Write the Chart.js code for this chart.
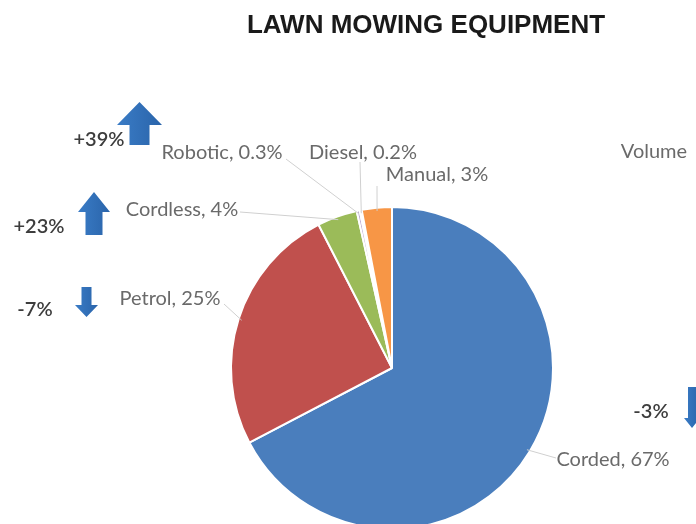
<!DOCTYPE html>
<html>
<head>
<meta charset="utf-8">
<script src="https://cdn.jsdelivr.net/npm/chart.js@4/dist/chart.umd.min.js"></script>
<style>
  html, body { margin: 0; padding: 0; background: #fff; overflow: hidden; }
  #wrap { width: 696px; height: 524px; position: relative; }
</style>
</head>
<body>
<div id="wrap"><canvas id="c" width="696" height="524"></canvas></div>
<script>
// Market share by mower type (% of units)
const categories = ['Corded', 'Petrol', 'Cordless', 'Robotic', 'Diesel', 'Manual'];
const shares = [67, 25, 4, 0.3, 0.2, 3];
const sliceColors = ['#4a7ebd', '#c0504d', '#9bbb59', '#b9a7cf', '#9fd3e2', '#f79646'];

// Volume change for selected types (%)
const changeCategories = ['Robotic', 'Cordless', 'Petrol', 'Corded'];
const volumeChange = [39, 23, -7, -3];

const chartTitle = 'LAWN MOWING EQUIPMENT';
const sideNote = 'Volume';

// Where each slice label sits and where its leader line starts
const labelLayout = {
  Corded:   { x: 613, y: 460, lx: 556, ly: 458 },
  Petrol:   { x: 170, y: 299, lx: 224, ly: 304 },
  Cordless: { x: 182, y: 210, lx: 240, ly: 212 },
  Robotic:  { x: 222, y: 153, lx: 286, ly: 159 },
  Diesel:   { x: 363, y: 153, lx: 360, ly: 162 },
  Manual:   { x: 437, y: 175, lx: 377, ly: 186 }
};

// Change badges: text centre and arrow box
const changeLayout = {
  Robotic:  { tx: 99,  ty: 140, ax: 117, ay: 102, aw: 45, ah: 43, head: 23, shaft: 20 },
  Cordless: { tx: 39,  ty: 227, ax: 78,  ay: 192, aw: 32, ah: 43, head: 20, shaft: 17 },
  Petrol:   { tx: 35,  ty: 310, ax: 75,  ay: 287, aw: 23, ah: 30, head: 12, shaft: 10 },
  Corded:   { tx: 651, ty: 412, ax: 684, ay: 387, aw: 16, ah: 41, head: 10, shaft: 8 }
};

function drawArrow(ctx, b, up) {
  const cx = b.ax + b.aw / 2;
  const s = b.shaft / 2;
  ctx.beginPath();
  if (up) {
    ctx.moveTo(cx, b.ay);
    ctx.lineTo(b.ax + b.aw, b.ay + b.head);
    ctx.lineTo(cx + s, b.ay + b.head);
    ctx.lineTo(cx + s, b.ay + b.ah);
    ctx.lineTo(cx - s, b.ay + b.ah);
    ctx.lineTo(cx - s, b.ay + b.head);
    ctx.lineTo(b.ax, b.ay + b.head);
  } else {
    const bot = b.ay + b.ah;
    ctx.moveTo(cx, bot);
    ctx.lineTo(b.ax + b.aw, bot - b.head);
    ctx.lineTo(cx + s, bot - b.head);
    ctx.lineTo(cx + s, b.ay);
    ctx.lineTo(cx - s, b.ay);
    ctx.lineTo(cx - s, bot - b.head);
    ctx.lineTo(b.ax, bot - b.head);
  }
  ctx.closePath();
  const g = ctx.createLinearGradient(b.ax, 0, b.ax + b.aw, 0);
  g.addColorStop(0, '#3a7cc6');
  g.addColorStop(1, '#2a64aa');
  ctx.fillStyle = g;
  ctx.fill();
}

const annotations = {
  id: 'annotations',
  afterDatasetsDraw(chart) {
    const ctx = chart.ctx;
    const meta = chart.getDatasetMeta(0);
    ctx.save();

    // title
    ctx.fillStyle = '#1a1a1a';
    ctx.font = 'bold 26px "Liberation Sans", Arial, sans-serif';
    ctx.textAlign = 'center';
    ctx.textBaseline = 'middle';
    ctx.fillText(chartTitle, 426, 26);

    // slice labels with leader lines
    ctx.font = '20px Lato, "Open Sans", sans-serif';
    categories.forEach((name, i) => {
      const arc = meta.data[i];
      const p = arc.getProps(['x', 'y', 'startAngle', 'endAngle', 'outerRadius'], true);
      const mid = (p.startAngle + p.endAngle) / 2;
      const ex = p.x + Math.cos(mid) * p.outerRadius * 0.98;
      const ey = p.y + Math.sin(mid) * p.outerRadius * 0.98;
      const L = labelLayout[name];
      ctx.strokeStyle = '#d0d0d0';
      ctx.lineWidth = 1;
      ctx.beginPath();
      ctx.moveTo(L.lx, L.ly);
      ctx.lineTo(ex, ey);
      ctx.stroke();
      ctx.fillStyle = '#6a6a6a';
      ctx.fillText(name + ', ' + shares[i] + '%', L.x, L.y);
    });

    // volume change badges
    ctx.font = '600 20px Lato, "Open Sans", sans-serif';
    changeCategories.forEach((name, i) => {
      const b = changeLayout[name];
      const v = volumeChange[i];
      ctx.fillStyle = '#3d3d3d';
      ctx.fillText((v > 0 ? '+' : '') + v + '%', b.tx, b.ty);
      drawArrow(ctx, b, v > 0);
    });

    ctx.font = '20px Lato, "Open Sans", sans-serif';
    ctx.fillStyle = '#6a6a6a';
    ctx.fillText(sideNote, 654, 152);
    ctx.restore();
  }
};

new Chart(document.getElementById('c'), {
  type: 'pie',
  data: {
    labels: categories,
    datasets: [{
      data: shares,
      backgroundColor: sliceColors,
      borderColor: '#ffffff',
      borderWidth: 2,
      radius: 161,
      clip: false
    }]
  },
  options: {
    responsive: false,
    animation: false,
    layout: { padding: { left: 88, right: 0, top: 212, bottom: 0 } },
    plugins: {
      legend: { display: false },
      tooltip: { enabled: false },
      title: { display: false }
    }
  },
  plugins: [annotations]
});
</script>
</body>
</html>
